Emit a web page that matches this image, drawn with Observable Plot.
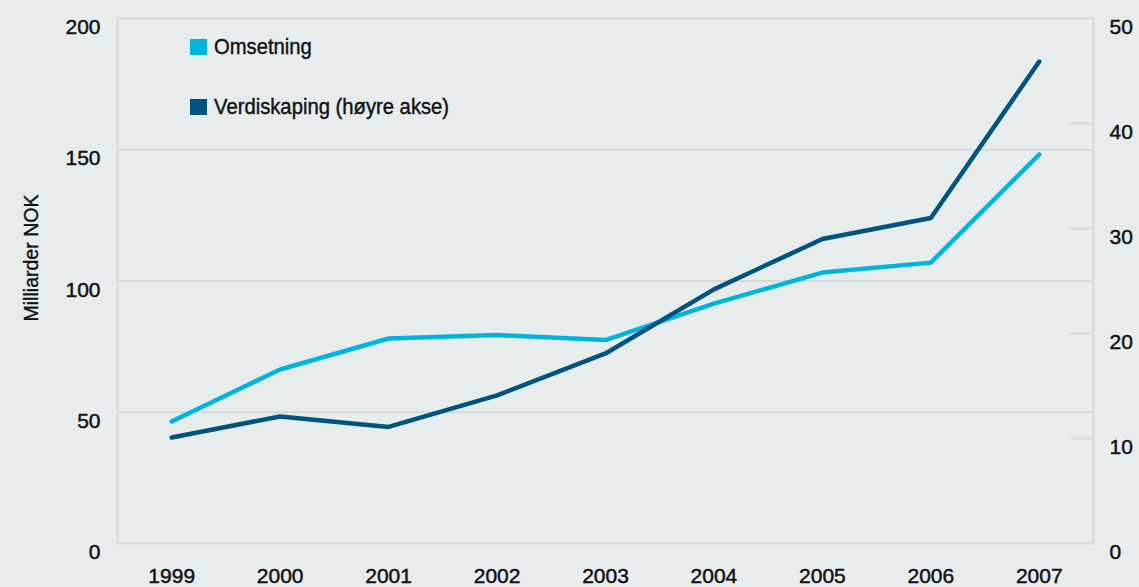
<!DOCTYPE html>
<html>
<head>
<meta charset="utf-8">
<script src="https://cdn.jsdelivr.net/npm/d3@7"></script>
<script src="https://cdn.jsdelivr.net/npm/@observablehq/plot@0.6"></script>
<style>
  body { margin: 0; background: #e7ecec; }
  #wrap { position: relative; width: 1139px; height: 587px; background: #e7ecec;
    font-family: "Liberation Sans", Arial, sans-serif; color: #111; overflow: hidden; }
  #chart { position: absolute; left: 0; top: 0; }
  #chart svg text { stroke: #111; stroke-width: 0.45px; }
  .legend { position: absolute; left: 190px; font-size: 22px; display: flex; align-items: center; line-height: 1; }
  .legend span { display: inline-block; transform: scaleX(0.92); transform-origin: left center; -webkit-text-stroke: 0.4px #111; }
  .sw { width: 17px; height: 16px; margin-right: 7px; }
  #ylabel { position: absolute; left: 31px; top: 258px; transform: translate(-50%, -50%) rotate(-90deg) scaleX(0.93);
    font-size: 21px; white-space: nowrap; -webkit-text-stroke: 0.4px #111; }
</style>
</head>
<body>
<div id="wrap">
  <div id="chart"></div>
  <div id="ylabel">Milliarder NOK</div>
  <div id="legend"></div>
</div>
<script>
const years = [1999, 2000, 2001, 2002, 2003, 2004, 2005, 2006, 2007];
const omsetning = [46.5, 66.3, 78.1, 79.4, 77.5, 91.4, 103.2, 107.0, 148.2];
const verdiskaping = [10.1, 12.1, 11.1, 14.1, 18.1, 24.2, 29.0, 31.0, 45.9];
const leftTicks = [0, 50, 100, 150, 200];
const rightTicks = [0, 10, 20, 30, 40, 50];
const seriesNames = ["Omsetning", "Verdiskaping (høyre akse)"];
const colors = ["#00b4e0", "#00547f"];
const RATIO = 4; // left scale max 200 / right scale max 50

const omRows = years.map((year, i) => ({year, value: omsetning[i], series: seriesNames[0]}));
const vdRows = years.map((year, i) => ({year, value: verdiskaping[i] * RATIO, series: seriesNames[1]}));

const gridColor = "#d5d9da";
const fontFamily = '"Liberation Sans", Arial, sans-serif';

const plot = Plot.plot({
  width: 1139,
  height: 587,
  marginLeft: 117,
  marginRight: 46,
  marginTop: 18,
  marginBottom: 44,
  style: {background: "transparent", fontFamily, fontSize: "21px", color: "#111"},
  x: {domain: [1998.5, 2007.5]},
  y: {domain: [0, 200]},
  marks: [
    Plot.gridY([50, 100, 150], {stroke: gridColor, strokeOpacity: 1, strokeWidth: 2}),
    Plot.frame({stroke: gridColor, strokeWidth: 2}),
    Plot.ruleY(rightTicks.filter(d => d > 0 && d < 50), {y: d => d * RATIO, x1: 2007.29, x2: 2007.5, stroke: gridColor, strokeWidth: 2}),
    Plot.axisY(leftTicks, {anchor: "left", tickSize: 0, tickPadding: 17, dy: 9, label: null, fill: "#111", fontSize: 21}),
    Plot.axisX(years, {anchor: "bottom", tickSize: 0, tickPadding: 25, tickFormat: d => String(d), label: null, fill: "#111", fontSize: 21}),
    Plot.text(rightTicks, {y: d => d * RATIO, text: d => String(d), frameAnchor: "right", dx: 16, dy: 9, textAnchor: "start", fill: "#111", fontSize: 21}),
    Plot.line(omRows, {x: "year", y: "value", stroke: colors[0], strokeWidth: 4.5, strokeLinecap: "round", strokeLinejoin: "round"}),
    Plot.line(vdRows, {x: "year", y: "value", stroke: colors[1], strokeWidth: 4.5, strokeLinecap: "round", strokeLinejoin: "round"})
  ]
});
document.getElementById("chart").appendChild(plot);

const legend = document.getElementById("legend");
const legendTops = [36, 96];
seriesNames.forEach((name, i) => {
  const row = document.createElement("div");
  row.className = "legend";
  row.style.top = legendTops[i] + "px";
  const sw = document.createElement("div");
  sw.className = "sw";
  sw.style.background = colors[i];
  const t = document.createElement("span");
  t.textContent = name;
  row.appendChild(sw);
  row.appendChild(t);
  legend.appendChild(row);
});
</script>
</body>
</html>
